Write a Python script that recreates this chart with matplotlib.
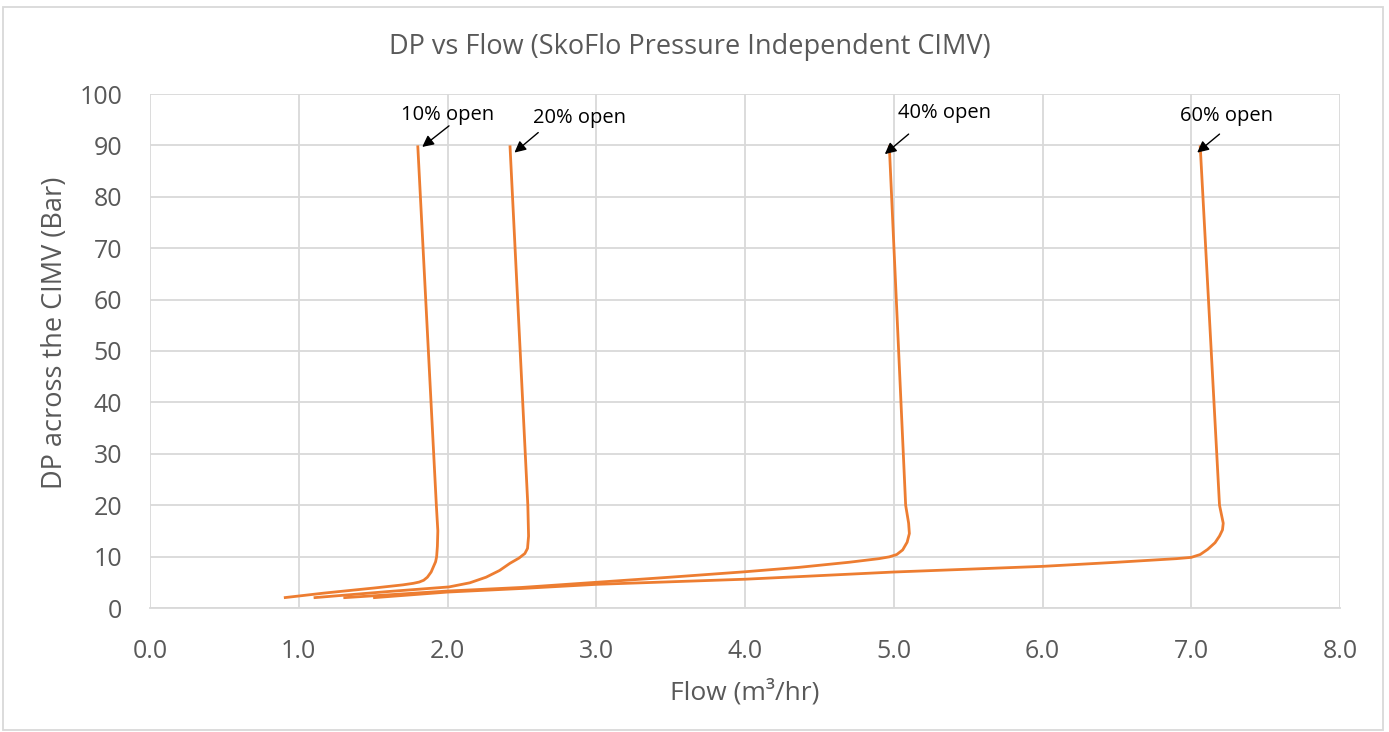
import matplotlib.pyplot as plt
from matplotlib.patches import Rectangle

# Flow (m3/hr) and DP (bar), one pair of lists per opening
flow_10 = [0.90, 1.17, 1.51, 1.70, 1.77, 1.81, 1.84, 1.865, 1.89, 1.905, 1.92, 1.927, 1.932, 1.935, 1.925, 1.80]
dp_10 = [2.0, 2.9, 3.9, 4.5, 4.8, 5.05, 5.4, 6.0, 7.0, 8.0, 9.0, 10.0, 12.0, 15.0, 20.0, 90.0]

flow_20 = [1.10, 1.60, 2.01, 2.15, 2.26, 2.35, 2.42, 2.48, 2.52, 2.538, 2.545, 2.54, 2.42]
dp_20 = [2.0, 3.2, 4.1, 4.9, 6.0, 7.3, 8.7, 9.7, 10.6, 11.6, 14.0, 20.0, 90.0]

flow_40 = [1.30, 2.00, 2.50, 3.00, 3.50, 4.00, 4.36, 4.70, 4.90, 4.97, 5.02, 5.06, 5.09, 5.105, 5.10, 5.08, 4.97]
dp_40 = [2.0, 3.3, 4.0, 5.0, 6.0, 7.05, 7.9, 8.9, 9.6, 9.95, 10.4, 11.3, 12.8, 14.5, 16.5, 20.0, 90.0]

flow_60 = [1.50, 2.00, 2.50, 3.00, 4.00, 4.36, 5.00, 6.00, 6.50, 6.90, 7.00, 7.06, 7.11, 7.16, 7.19, 7.21, 7.215, 7.19, 7.06]
dp_60 = [2.0, 3.1, 3.8, 4.6, 5.6, 6.1, 7.0, 8.1, 8.9, 9.6, 9.85, 10.4, 11.4, 12.7, 14.0, 15.2, 16.5, 20.0, 90.0]

labels = ['10% open', '20% open', '40% open', '60% open']
label_pos = [(2.00, 95.9), (2.89, 95.4), (5.34, 96.4), (7.24, 95.7)]
arrow_tail = [(2.01, 93.8), (2.61, 92.5), (5.10, 92.2), (7.19, 92.2)]
arrow_tip = [(1.83, 89.7), (2.45, 88.6), (4.94, 88.3), (7.04, 88.6)]

x_ticks = [0, 1, 2, 3, 4, 5, 6, 7, 8]
y_ticks = [0, 10, 20, 30, 40, 50, 60, 70, 80, 90, 100]

plt.rcParams['font.family'] = ['Open Sans', 'DejaVu Sans']
grey = '#595959'
orange = '#ED7D31'

fig = plt.figure(figsize=(13.89, 7.32), dpi=100)
ax = fig.add_axes([150 / 1389, 1 - 608 / 732, 1190 / 1389, 514 / 732])

for fx, dy in [(flow_10, dp_10), (flow_20, dp_20), (flow_40, dp_40), (flow_60, dp_60)]:
    ax.plot(fx, dy, color=orange, lw=2.0, solid_joinstyle='round', solid_capstyle='butt')

for lab, pos, tail, tip in zip(labels, label_pos, arrow_tail, arrow_tip):
    ax.text(pos[0], pos[1], lab, ha='center', va='center', fontsize=14.5, color='black')
    ax.annotate('', xy=tip, xytext=tail,
                arrowprops=dict(arrowstyle='-|>', color='black', lw=1, mutation_scale=17,
                                shrinkA=0, shrinkB=0))

ax.set_xlim(0, 8)
ax.set_ylim(0, 100)
ax.set_xticks(x_ticks)
ax.set_xticklabels([f'{v:.1f}' for v in x_ticks])
ax.set_yticks(y_ticks)
ax.tick_params(length=0, labelsize=18, labelcolor=grey)
ax.tick_params(axis='x', pad=22)
ax.tick_params(axis='y', pad=20)
ax.grid(True, color='#d9d9d9', lw=1.3)
ax.set_axisbelow(True)
for side in ['top', 'right', 'left']:
    ax.spines[side].set_visible(False)
ax.spines['bottom'].set_color('#d9d9d9')
ax.spines['bottom'].set_linewidth(1.3)

ax.set_xlabel('Flow (m³/hr)', fontsize=19, color=grey, va='center')
ax.xaxis.set_label_coords(0.5, (608 - 692) / 514)
ax.set_ylabel('DP across the CIMV (Bar)', fontsize=19.5, color=grey, va='center')
ax.yaxis.set_label_coords((55 - 150) / 1190, 0.536)
fig.text(690 / 1389, 1 - 47 / 732, 'DP vs Flow (SkoFlo Pressure Independent CIMV)',
         ha='center', va='center', fontsize=19.5, color=grey)

fig.patches.append(Rectangle((3 / 1389, 2 / 732), 1380 / 1389, 723 / 732, transform=fig.transFigure,
                             fill=False, edgecolor='#d9d9d9', lw=1.3))

fig.savefig('out.png', dpi=100)
